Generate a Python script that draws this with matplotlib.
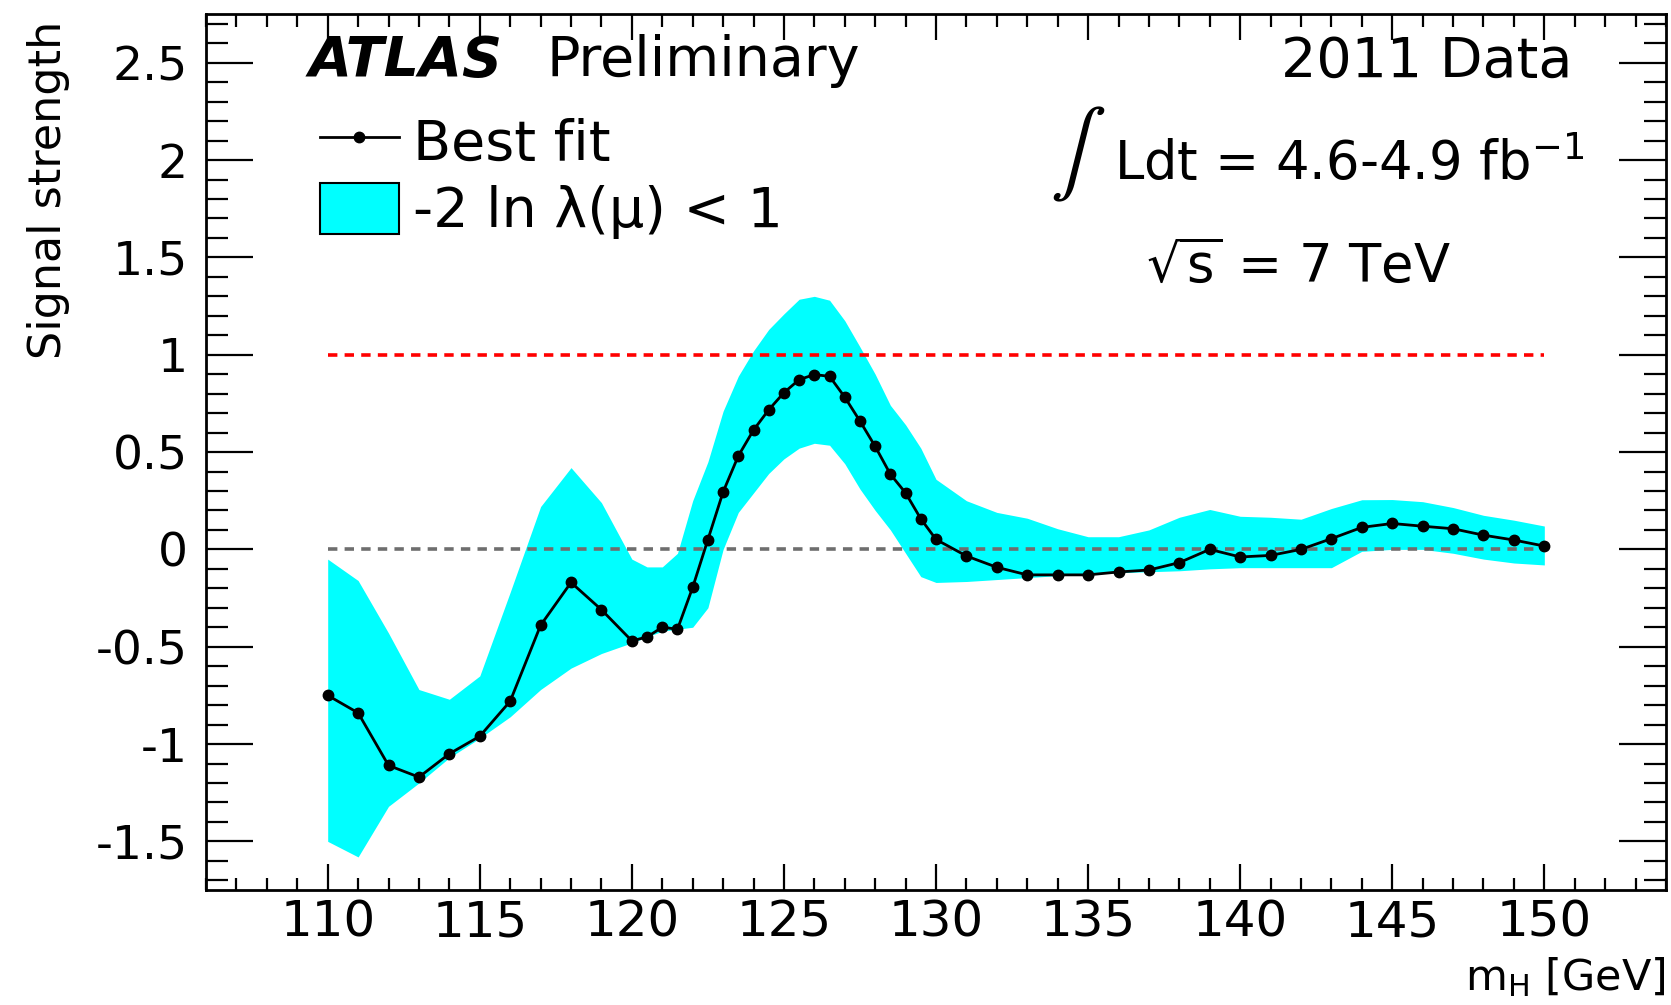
import matplotlib
matplotlib.use("Agg")
import matplotlib.pyplot as plt
from matplotlib.lines import Line2D
from matplotlib.patches import Patch
from matplotlib.ticker import MultipleLocator

plt.rcParams['font.family'] = ['DejaVu Sans']
plt.rcParams['mathtext.fontset'] = 'dejavusans'

# Higgs mass points [GeV]
mass = [110, 111, 112, 113, 114, 115, 116, 117, 118, 119, 120, 120.5, 121, 121.5,
        122, 122.5, 123, 123.5, 124, 124.5, 125, 125.5, 126, 126.5, 127, 127.5,
        128, 128.5, 129, 129.5, 130, 131, 132, 133, 134, 135, 136, 137, 138, 139,
        140, 141, 142, 143, 144, 145, 146, 147, 148, 149, 150]

# best-fit signal strength
best_fit = [-0.75, -0.84, -1.11, -1.17, -1.05, -0.96, -0.78, -0.39, -0.17, -0.31,
            -0.47, -0.45, -0.40, -0.41, -0.195, 0.05, 0.295, 0.48, 0.613, 0.717,
            0.805, 0.872, 0.898, 0.889, 0.782, 0.659, 0.529, 0.386, 0.29, 0.157,
            0.051, -0.034, -0.092, -0.131, -0.131, -0.131, -0.116, -0.106, -0.068,
            0.0, -0.039, -0.031, 0.0, 0.055, 0.113, 0.133, 0.119, 0.106, 0.073,
            0.048, 0.017]

# -2 ln lambda(mu) < 1 band
band_hi = [-0.05, -0.16, -0.43, -0.72, -0.77, -0.65, -0.22, 0.22, 0.42, 0.24,
           -0.05, -0.09, -0.09, -0.02, 0.25, 0.45, 0.71, 0.89, 1.02, 1.13,
           1.21, 1.285, 1.30, 1.28, 1.175, 1.04, 0.90, 0.74, 0.64, 0.52,
           0.36, 0.25, 0.19, 0.16, 0.106, 0.065, 0.065, 0.10, 0.165, 0.205,
           0.17, 0.165, 0.155, 0.21, 0.255, 0.256, 0.245, 0.215, 0.175, 0.15, 0.12]
band_lo = [-1.50, -1.58, -1.32, -1.20, -1.07, -0.97, -0.86, -0.72, -0.61, -0.535,
           -0.48, -0.45, -0.42, -0.41, -0.40, -0.30, 0.0, 0.19, 0.29, 0.39,
           0.465, 0.52, 0.545, 0.535, 0.44, 0.31, 0.20, 0.10, -0.02, -0.14,
           -0.17, -0.165, -0.155, -0.145, -0.135, -0.128, -0.12, -0.115, -0.11, -0.10,
           -0.094, -0.094, -0.094, -0.094, -0.01, 0.0, 0.0, -0.02, -0.05, -0.07, -0.08]

fig = plt.figure(figsize=(16.71, 10.05), dpi=100)
ax = fig.add_axes([0.1233, 0.1144, 0.8737, 0.8716])

ax.fill_between(mass, band_lo, band_hi, color='#00ffff', lw=0, zorder=1)
ax.plot([mass[0], mass[-1]], [1, 1], color='#ff0000', lw=2.6, dashes=(2.6, 2.0), zorder=2)
ax.plot([mass[0], mass[-1]], [0, 0], color='#6e6e6e', lw=2.6, dashes=(2.6, 2.0), zorder=2)
ax.plot(mass, best_fit, color='black', lw=2, marker='o', ms=7.5, zorder=3)

ax.set_xlim(106, 154)
ax.set_ylim(-1.75, 2.75)

ax.xaxis.set_major_locator(MultipleLocator(5))
ax.xaxis.set_minor_locator(MultipleLocator(1))
ax.yaxis.set_major_locator(MultipleLocator(0.5))
ax.yaxis.set_minor_locator(MultipleLocator(0.1))
ax.tick_params(axis='both', which='both', direction='in', top=True, right=True,
               width=1.6, colors='black')
ax.tick_params(axis='x', which='major', length=19, pad=6, labelsize=36)
ax.tick_params(axis='x', which='minor', length=9)
ax.tick_params(axis='y', which='major', length=34, pad=13, labelsize=34)
ax.tick_params(axis='y', which='minor', length=16)
ax.set_yticks([-1.5, -1, -0.5, 0, 0.5, 1, 1.5, 2, 2.5])
ax.set_yticklabels(['-1.5', '-1', '-0.5', '0', '0.5', '1', '1.5', '2', '2.5'])
for s in ax.spines.values():
    s.set_linewidth(2)

# axis titles (ROOT style: at the ends of the axes)
ax.text(-0.108, 0.992, 'Signal strength', transform=ax.transAxes, fontsize=32,
        rotation=90, ha='center', va='top')
ax.set_xlabel(r'm$_{\mathrm{H}}$ [GeV]', fontsize=31, loc='right')
ax.xaxis.set_label_coords(1.0, -0.074)

ax.text(0.0705, 0.946, 'ATLAS', transform=ax.transAxes, fontsize=40,
        fontweight='bold', fontstyle='italic', va='center', ha='left')
ax.text(0.233, 0.946, 'Preliminary', transform=ax.transAxes, fontsize=40,
        va='center', ha='left')
ax.text(0.9356, 0.946, '2011 Data', transform=ax.transAxes, fontsize=40,
        va='center', ha='right')
ax.text(0.578, 0.84, r'$\int$', transform=ax.transAxes, fontsize=60,
        va='center', ha='left', math_fontfamily='stix')
ax.text(0.622, 0.828, r'Ldt = 4.6-4.9 fb$^{\mathregular{-1}}$', transform=ax.transAxes,
        fontsize=38, va='center', ha='left')
ax.text(0.644, 0.712, r'$\sqrt{\mathregular{s}}$ = 7 TeV', transform=ax.transAxes,
        fontsize=38, va='center', ha='left')

handles = [Line2D([], [], color='black', lw=2, marker='o', ms=7.5),
           Patch(facecolor='#00ffff', edgecolor='black', lw=1.5)]
ax.legend(handles, ['Best fit', '-2 ln λ(μ) < 1'],
          loc='upper left', bbox_to_anchor=(0.078, 0.885), frameon=False,
          fontsize=40, handlelength=1.42, handleheight=1.05, handletextpad=0.25,
          labelspacing=0.2, borderpad=0, borderaxespad=0)

fig.savefig('out.png', dpi=100)
